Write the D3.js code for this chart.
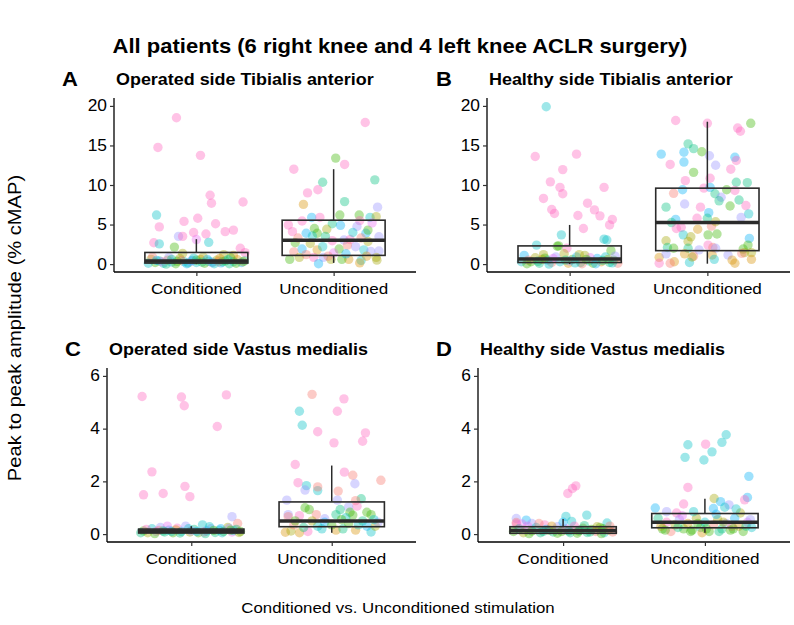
<!DOCTYPE html>
<html>
<head>
<meta charset="utf-8">
<script src="https://cdn.jsdelivr.net/npm/d3@7"></script>
<style>
  body { margin: 0; background: #fff; }
  svg text { font-family: "Liberation Sans", Arial, Helvetica, sans-serif; fill: #000; }
</style>
</head>
<body>
<svg id="chart"></svg>
<script>
// groups on the x axis
const categories = ['Conditioned', 'Unconditioned'];

// 10 patients, ggplot default hue palette
const patientColors = ['#F8766D', '#D89000', '#A3A500', '#39B600', '#00BF7D',
                       '#00BFC4', '#00B0F6', '#9590FF', '#E76BF3', '#FF62BC'];

// each point: [jitter (category units), peak-to-peak amplitude % cMAP, patient index]
const opTaCond = [
  [-0.145, 18.5, 9], [-0.28, 14.75, 9], [0.03, 13.75, 9], [0.10, 8.7, 9], [0.11, 7.7, 9], [0.34, 7.85, 9],
  [-0.29, 6.2, 5], [-0.27, 4.7, 9], [-0.09, 5.4, 9], [0.01, 5.8, 9], [0.14, 5.1, 9], [-0.02, 4.0, 9],
  [0.07, 3.8, 9], [0.21, 4.1, 9], [0.27, 4.3, 9], [-0.13, 3.5, 7], [-0.10, 3.5, 9], [-0.31, 2.7, 9],
  [-0.27, 2.55, 5], [0.09, 2.75, 5], [-0.16, 2.15, 3], [0.32, 2.0, 9], [0.355, 1.45, 9], [-0.10, 1.35, 2],
  [0.20, 1.2, 2], [0.27, 1.1, 1], [0.00, 3.1, 8], [-0.33, 0.6, 2], [-0.30, 0.2, 3], [-0.27, 0.4, 4],
  [-0.24, 0.1, 5], [-0.21, 0.5, 1], [-0.18, 0.25, 6], [-0.15, 0.05, 3], [-0.12, 0.7, 2], [-0.09, 0.3, 5],
  [-0.06, 0.15, 4], [-0.03, 0.45, 6], [0.0, 0.2, 5], [0.03, 0.6, 1], [0.06, 0.1, 3], [0.09, 0.35, 4],
  [0.12, 0.25, 5], [0.15, 0.5, 2], [0.18, 0.15, 6], [0.21, 0.4, 3], [0.24, 0.05, 4], [0.27, 0.3, 5],
  [0.30, 0.55, 1], [0.33, 0.2, 6], [-0.32, 0.9, 0], [-0.2, 0.85, 7], [0.05, 0.9, 2], [0.25, 0.8, 3],
  [-0.04, 0.35, 7], [0.16, 0.3, 0], [-0.25, 0.3, 8], [0.35, 0.4, 4], [-0.11, 0.45, 0], [0.11, 0.2, 7],
  [-0.35, 0.1, 5], [-0.22, 0.0, 4], [-0.14, 0.35, 3], [-0.07, 0.05, 6], [0.0, 0.5, 3], [0.04, 0.25, 4],
  [0.08, 0.6, 6], [0.13, 0.05, 5], [0.19, 0.3, 4], [0.23, 0.55, 5], [0.29, 0.1, 3], [0.34, 0.3, 2],
  [-0.29, 0.45, 6], [-0.18, 0.6, 4], [-0.02, 0.75, 5], [0.17, 0.7, 1]
];
const opTaUncond = [
  [0.23, 17.9, 9], [0.015, 13.4, 3], [0.08, 12.6, 9], [-0.29, 12.0, 9], [0.30, 10.65, 4], [-0.08, 10.35, 4],
  [-0.115, 9.4, 9], [-0.19, 9.0, 9], [0.08, 7.9, 4], [-0.22, 7.55, 1], [0.32, 7.2, 7], [0.045, 6.2, 3],
  [-0.23, 5.45, 9], [-0.16, 5.9, 6], [-0.10, 5.9, 9], [-0.01, 5.1, 4], [0.186, 6.2, 3], [0.19, 5.5, 9],
  [0.265, 5.9, 5], [0.31, 6.0, 2], [-0.33, 4.95, 9], [-0.30, 4.1, 9], [-0.20, 3.9, 6], [-0.12, 3.9, 3],
  [-0.05, 4.4, 2], [-0.14, 4.5, 3], [0.17, 4.75, 7], [0.235, 3.9, 6], [0.25, 4.3, 3], [0.33, 3.45, 7],
  [-0.155, 3.55, 5], [-0.28, 2.7, 3], [-0.01, 2.96, 9], [0.075, 3.05, 7], [0.12, 3.1, 9], [0.25, 2.85, 2],
  [-0.23, 1.9, 6], [-0.12, 1.8, 1], [-0.08, 2.2, 5], [0.04, 1.9, 3], [0.16, 2.2, 7], [0.22, 1.8, 5],
  [0.33, 1.65, 7], [-0.29, 1.55, 0], [-0.32, 0.6, 3], [-0.25, 0.85, 2], [-0.145, 0.85, 9], [-0.075, 0.85, 7],
  [-0.11, 0.05, 6], [-0.02, 0.6, 2], [0.11, 0.6, 1], [0.2, 0.45, 5], [0.19, 0.15, 1], [0.315, 0.5, 2],
  [0.31, 0.85, 2], [0.27, 1.6, 7], [0.10, 2.4, 0], [0.06, 0.6, 3], [-0.20, 1.2, 0], [0.0, 1.4, 8],
  [-0.06, 3.5, 4], [0.14, 4.0, 5], [0.28, 5.2, 8], [-0.26, 3.3, 0], [0.05, 4.9, 6], [0.20, 3.3, 0],
  [-0.17, 2.6, 2], [0.09, 1.3, 6], [0.24, 1.0, 1], [-0.04, 1.0, 0]
];
const healthyTaCond = [
  [-0.17, 19.9, 5], [-0.25, 13.6, 9], [0.05, 13.9, 9], [-0.05, 11.95, 9], [-0.14, 10.4, 9], [-0.07, 9.7, 9],
  [0.25, 9.7, 9], [-0.05, 8.9, 9], [-0.19, 8.3, 9], [0.13, 7.7, 9], [0.18, 6.85, 9], [-0.13, 6.9, 9],
  [-0.11, 6.4, 9], [0.06, 6.15, 9], [0.22, 6.1, 9], [0.31, 5.65, 9], [0.29, 4.95, 9], [0.10, 4.5, 9],
  [-0.06, 3.7, 5], [0.25, 3.15, 5], [0.27, 3.05, 5], [-0.24, 2.4, 5], [-0.09, 2.25, 3], [-0.08, 2.3, 3],
  [0.30, 1.7, 3], [-0.02, 2.0, 9], [-0.33, 1.1, 6], [-0.28, 0.3, 3], [-0.25, 0.8, 2], [-0.22, 0.1, 4],
  [-0.19, 1.2, 2], [-0.16, 0.5, 6], [-0.13, 0.2, 0], [-0.10, 0.9, 7], [-0.07, 0.3, 5], [-0.04, 1.3, 2],
  [-0.01, 0.1, 1], [0.02, 0.6, 3], [0.05, 0.9, 6], [0.08, 0.2, 4], [0.11, 1.1, 2], [0.14, 0.4, 5],
  [0.17, 0.1, 3], [0.20, 0.7, 6], [0.23, 0.3, 1], [0.26, 0.9, 5], [0.29, 0.2, 4], [0.32, 0.5, 3],
  [0.35, 0.1, 0], [-0.30, 0.5, 0], [-0.12, 0.7, 8], [0.0, 0.4, 7], [0.15, 0.8, 8], [-0.2, 0.6, 1],
  [0.28, 0.6, 2], [0.09, 0.05, 0], [-0.35, 0.3, 5], [0.33, 1.0, 7],
  [-0.31, 0.05, 3], [-0.23, 0.35, 4], [-0.15, 0.0, 5], [-0.03, 0.5, 4], [0.04, 0.15, 5], [0.12, 0.6, 3],
  [0.19, 0.05, 6], [0.24, 0.45, 4], [0.31, 0.15, 5], [-0.18, 0.75, 3], [0.07, 1.2, 2]
];
const healthyTaUncond = [
  [-0.23, 18.15, 9], [0.0, 17.8, 9], [0.315, 17.8, 3], [0.22, 17.2, 9], [0.24, 16.8, 9], [-0.14, 15.2, 4],
  [-0.10, 14.6, 4], [-0.17, 14.15, 6], [-0.335, 13.9, 6], [-0.04, 14.2, 3], [0.015, 13.7, 7], [0.20, 13.5, 6],
  [0.21, 13.1, 9], [-0.27, 12.6, 9], [-0.17, 12.9, 6], [0.06, 12.5, 7], [0.17, 12.0, 9], [-0.10, 11.6, 3],
  [-0.16, 10.55, 9], [0.02, 10.85, 9], [0.21, 10.35, 4], [0.29, 10.3, 4], [-0.025, 9.6, 9], [0.02, 9.7, 6],
  [-0.245, 8.95, 0], [-0.18, 9.4, 6], [0.055, 8.9, 4], [0.10, 8.45, 7], [0.085, 8.0, 4], [0.14, 9.4, 3],
  [0.20, 9.3, 9], [0.23, 8.1, 4], [0.28, 7.4, 9], [0.30, 6.35, 5], [0.165, 7.35, 3], [-0.30, 7.2, 4],
  [-0.165, 7.6, 7], [-0.05, 7.2, 9], [-0.075, 5.8, 9], [0.01, 6.5, 6], [0.0, 5.8, 4], [0.245, 5.9, 7],
  [-0.23, 5.65, 6], [-0.26, 5.25, 4], [-0.19, 4.65, 9], [0.03, 4.8, 0], [0.06, 5.35, 2], [-0.07, 4.4, 1],
  [-0.225, 4.5, 9], [-0.175, 3.7, 5], [-0.12, 3.45, 2], [-0.14, 2.85, 2], [0.005, 3.7, 3], [0.07, 3.8, 3],
  [-0.30, 2.95, 2], [0.305, 3.25, 6], [0.295, 2.4, 3], [0.26, 1.9, 3], [0.005, 2.4, 9], [0.04, 2.1, 0],
  [0.06, 2.0, 7], [-0.29, 2.1, 4], [-0.245, 2.0, 3], [-0.14, 2.0, 4], [-0.06, 1.8, 7], [0.32, 1.45, 2],
  [0.27, 1.45, 2], [-0.35, 0.85, 1], [-0.30, 1.3, 7], [-0.24, 0.3, 1], [-0.27, 0.1, 0], [-0.35, 0.1, 9],
  [-0.165, 1.3, 1], [-0.10, 1.0, 0], [-0.13, 0.2, 5], [-0.11, 0.9, 2], [0.035, 1.15, 1], [0.05, 0.6, 5],
  [0.15, 1.15, 7], [0.18, 0.5, 1], [0.20, 0.1, 1], [0.25, 1.35, 0], [0.32, 0.6, 1]
];
const opVmCond = [
  [-0.35, 5.22, 9], [-0.05, 4.87, 9], [-0.07, 5.2, 9], [0.25, 5.28, 9], [0.185, 4.08, 9], [-0.28, 2.36, 9],
  [-0.34, 1.49, 9], [-0.20, 1.54, 9], [-0.045, 1.81, 9], [-0.01, 1.42, 9], [0.29, 0.66, 7], [0.33, 0.4, 0],
  [-0.34, 0.12, 3], [-0.31, 0.05, 2], [-0.28, 0.2, 5], [-0.25, 0.1, 8], [-0.22, 0.25, 7], [-0.19, 0.08, 4],
  [-0.16, 0.15, 6], [-0.13, 0.05, 3], [-0.10, 0.22, 9], [-0.07, 0.1, 5], [-0.04, 0.3, 7], [-0.01, 0.08, 2],
  [0.02, 0.18, 4], [0.05, 0.05, 3], [0.08, 0.35, 5], [0.11, 0.12, 6], [0.14, 0.2, 7], [0.17, 0.06, 4],
  [0.20, 0.15, 5], [0.23, 0.1, 3], [0.26, 0.25, 2], [0.29, 0.08, 8], [0.32, 0.18, 4], [0.35, 0.1, 3],
  [-0.32, 0.18, 9], [-0.23, 0.14, 0], [-0.11, 0.16, 1], [0.0, 0.12, 7], [0.09, 0.08, 9], [0.21, 0.2, 6],
  [0.30, 0.13, 5], [-0.17, 0.3, 8], [0.13, 0.28, 5], [0.27, 0.22, 7],
  [-0.36, 0.05, 4], [-0.26, 0.02, 3], [-0.2, 0.12, 4], [-0.14, 0.1, 5], [-0.08, 0.04, 4], [-0.02, 0.2, 5],
  [0.04, 0.1, 6], [0.1, 0.02, 4], [0.16, 0.14, 3], [0.22, 0.05, 5], [0.28, 0.15, 3], [0.34, 0.06, 2]
];
const opVmUncond = [
  [-0.14, 5.3, 0], [0.087, 5.13, 9], [-0.23, 4.66, 5], [0.04, 4.66, 9], [-0.21, 4.13, 5], [-0.10, 3.88, 9],
  [0.24, 3.84, 9], [0.22, 3.52, 9], [0.016, 3.46, 9], [-0.26, 2.64, 9], [0.09, 2.35, 9], [0.15, 2.23, 0],
  [0.35, 2.04, 0], [-0.24, 1.95, 9], [-0.18, 1.84, 5], [0.165, 1.91, 7], [-0.10, 1.65, 5], [-0.10, 1.79, 0],
  [-0.19, 1.67, 7], [0.046, 1.63, 0], [-0.32, 1.29, 7], [0.04, 1.29, 7], [0.21, 1.34, 4], [0.17, 1.27, 0],
  [0.18, 1.06, 9], [0.12, 1.03, 7], [-0.19, 1.0, 3], [-0.16, 0.93, 3], [0.06, 0.93, 4], [0.13, 0.83, 3],
  [0.15, 0.72, 3], [0.25, 0.83, 3], [0.28, 0.74, 3], [0.03, 0.74, 4], [-0.31, 0.74, 7], [-0.31, 0.66, 0],
  [-0.23, 0.7, 9], [-0.11, 0.74, 0], [-0.05, 0.58, 7], [0.10, 0.62, 5], [-0.33, 0.07, 1], [-0.29, 0.12, 2],
  [-0.23, 0.05, 1], [-0.17, 0.1, 9], [-0.10, 0.3, 5], [0.03, 0.15, 1], [0.08, 0.2, 4], [0.17, 0.15, 1],
  [0.28, 0.08, 5], [0.31, 0.3, 2], [-0.27, 0.35, 0], [-0.05, 0.45, 6], [0.12, 0.4, 3], [0.22, 0.5, 4],
  [0.33, 0.45, 7], [-0.14, 0.5, 2], [0.0, 0.35, 3], [-0.2, 0.25, 4], [0.25, 0.3, 6],
  [-0.07, 0.2, 5], [0.19, 0.35, 5], [-0.26, 0.5, 3], [0.07, 0.55, 3], [0.3, 0.55, 5]
];
const healthyVmCond = [
  [0.033, 1.54, 9], [0.066, 1.73, 9], [0.09, 1.83, 9], [0.167, 0.72, 5], [0.02, 0.67, 5], [0.06, 0.48, 5],
  [0.31, 0.42, 5], [-0.33, 0.59, 7], [-0.26, 0.53, 6], [-0.33, 0.44, 0], [-0.33, 0.38, 9], [-0.22, 0.4, 7],
  [-0.35, 0.1, 3], [-0.31, 0.2, 4], [-0.28, 0.05, 2], [-0.25, 0.3, 8], [-0.22, 0.12, 3], [-0.19, 0.25, 5],
  [-0.16, 0.05, 4], [-0.13, 0.35, 9], [-0.10, 0.15, 3], [-0.07, 0.08, 4], [-0.04, 0.28, 7], [-0.01, 0.1, 3],
  [0.02, 0.2, 8], [0.05, 0.05, 4], [0.08, 0.3, 9], [0.11, 0.12, 3], [0.14, 0.22, 2], [0.17, 0.06, 4],
  [0.20, 0.18, 3], [0.23, 0.1, 0], [0.26, 0.25, 3], [0.29, 0.05, 5], [0.32, 0.15, 1], [0.35, 0.08, 0],
  [-0.29, 0.38, 8], [-0.17, 0.4, 0], [-0.08, 0.3, 1], [0.0, 0.45, 6], [0.12, 0.15, 5], [0.24, 0.28, 2],
  [-0.12, 0.18, 6], [0.15, 0.32, 4], [0.28, 0.2, 3],
  [-0.24, 0.02, 3], [-0.14, 0.1, 4], [-0.04, 0.03, 3], [0.04, 0.12, 4], [0.1, 0.03, 3], [0.19, 0.08, 4],
  [0.27, 0.02, 3], [0.33, 0.3, 0]
];
const healthyVmUncond = [
  [-0.12, 3.39, 5], [0.005, 3.41, 9], [0.05, 3.12, 5], [0.12, 3.48, 5], [0.15, 3.77, 5], [-0.14, 2.91, 5],
  [-0.007, 2.81, 5], [0.31, 2.19, 6], [-0.12, 1.77, 9], [0.30, 1.39, 6], [0.28, 1.3, 9], [-0.15, 1.14, 9],
  [0.065, 1.35, 2], [-0.35, 0.99, 6], [0.06, 0.97, 6], [0.11, 1.23, 6], [0.17, 1.11, 7], [0.14, 1.02, 5],
  [-0.27, 0.85, 7], [-0.20, 0.8, 9], [0.25, 0.8, 2], [-0.33, 0.6, 4], [-0.30, 0.2, 3], [-0.27, 0.45, 9],
  [-0.24, 0.1, 0], [-0.21, 0.35, 2], [-0.18, 0.55, 7], [-0.15, 0.2, 3], [-0.12, 0.4, 1], [-0.09, 0.15, 3],
  [-0.06, 0.6, 2], [-0.03, 0.25, 4], [0.0, 0.45, 5], [0.03, 0.1, 3], [0.06, 0.35, 0], [0.09, 0.55, 2],
  [0.12, 0.2, 4], [0.15, 0.4, 7], [0.18, 0.15, 3], [0.21, 0.6, 6], [0.24, 0.3, 1], [0.27, 0.1, 3],
  [0.30, 0.45, 8], [0.33, 0.25, 5], [-0.31, 0.3, 1], [-0.16, 0.7, 8], [0.08, 0.75, 6], [0.19, 0.3, 0],
  [-0.02, 0.05, 1], [0.32, 0.55, 7], [-0.08, 0.85, 5], [0.22, 0.95, 5],
  [-0.28, 0.15, 3], [-0.19, 0.25, 4], [-0.1, 0.1, 3], [0.01, 0.2, 3], [0.1, 0.1, 4], [0.2, 0.2, 3],
  [0.29, 0.3, 4], [-0.05, 0.4, 3], [0.13, 0.45, 2]
];

// box stats: [lower whisker, q1, median, q3, upper whisker]
const boxOpTa = [[0.0, 0.13, 0.4, 1.47, 3.15], [0.15, 1.1, 3.0, 5.55, 12.0]];
const boxHealthyTa = [[0.0, 0.2, 0.65, 2.3, 4.95], [0.05, 1.7, 5.25, 9.6, 18.0]];
const boxOpVm = [[0.02, 0.04, 0.11, 0.19, 0.3], [0.05, 0.28, 0.5, 1.22, 2.6]];
const boxHealthyVm = [[0.02, 0.03, 0.14, 0.28, 0.57], [0.05, 0.24, 0.45, 0.78, 1.34]];

const yTicksTa = [0, 5, 10, 15, 20];
const yTicksVm = [0, 2, 4, 6];

const mainTitle = 'All patients (6 right knee and 4 left knee ACLR surgery)';
const xTitle = 'Conditioned vs. Unconditioned stimulation';
const yTitle = 'Peak to peak amplitude (% cMAP)';

const panels = [
  {letter: 'A', title: 'Operated side Tibialis anterior', groups: [opTaCond, opTaUncond], box: boxOpTa,
   ticks: yTicksTa, domain: [-1, 21], x0: 114, x1: 416, top: 98, bottom: 272, letterX: 62},
  {letter: 'B', title: 'Healthy side Tibialis anterior', groups: [healthyTaCond, healthyTaUncond], box: boxHealthyTa,
   ticks: yTicksTa, domain: [-1, 21], x0: 487, x1: 790, top: 98, bottom: 272, letterX: 436},
  {letter: 'C', title: 'Operated side Vastus medialis', groups: [opVmCond, opVmUncond], box: boxOpVm,
   ticks: yTicksVm, domain: [-0.3, 6.3], x0: 107, x1: 416, top: 368, bottom: 542, letterX: 65},
  {letter: 'D', title: 'Healthy side Vastus medialis', groups: [healthyVmCond, healthyVmUncond], box: boxHealthyVm,
   ticks: yTicksVm, domain: [-0.3, 6.3], x0: 478, x1: 790, top: 368, bottom: 542, letterX: 436}
];

const width = 794, height = 625;
const sx = 1.1; // the source picture's text is slightly wider than regular Arial

const svg = d3.select('#chart')
    .attr('width', width)
    .attr('height', height);

// helper: text anchored at (x, y) with the horizontal stretch
function addText(parent, x, y, str, size, opts = {}) {
  return parent.append('text')
      .attr('transform', `translate(${x},${y}) scale(${opts.rotate ? 1 : sx},${opts.rotate ? sx : 1})${opts.rotate ? ' rotate(-90)' : ''}`)
      .attr('text-anchor', opts.anchor || 'start')
      .attr('font-size', size)
      .attr('font-weight', opts.bold ? 'bold' : null)
      .text(str);
}

addText(svg, 400, 53, mainTitle, 20, {anchor: 'middle', bold: true});
addText(svg, 398, 613, xTitle, 15.3, {anchor: 'middle'});
addText(svg, 21, 328, yTitle, 18.3, {anchor: 'middle', rotate: true});

panels.forEach(p => {
  const g = svg.append('g');

  // ggplot discrete expansion: 0.6 units each side of positions 1..2
  const xPos = d3.scaleLinear().domain([0.4, 2.6]).range([p.x0, p.x1]);
  const unit = xPos(2) - xPos(1);

  const yScale = d3.scaleLinear().domain(p.domain).range([p.bottom, p.top]);

  // jittered points
  p.groups.forEach((pts, gi) => {
    g.selectAll(null)
        .data(pts)
        .join('circle')
        .attr('cx', d => xPos(gi + 1 + d[0]))
        .attr('cy', d => yScale(d[1]))
        .attr('r', 4.7)
        .attr('fill', d => patientColors[d[2]])
        .attr('fill-opacity', 0.38);
  });

  // boxplots
  const bw = 0.75 * unit;
  p.box.forEach((b, gi) => {
    const cx = xPos(gi + 1);
    const bg = g.append('g').attr('stroke', '#2b2b2b');
    bg.append('line')
        .attr('x1', cx).attr('x2', cx)
        .attr('y1', yScale(b[3])).attr('y2', yScale(b[4]))
        .attr('stroke-width', 1.5);
    bg.append('line')
        .attr('x1', cx).attr('x2', cx)
        .attr('y1', yScale(b[0])).attr('y2', yScale(b[1]))
        .attr('stroke-width', 1.5);
    bg.append('rect')
        .attr('x', cx - bw / 2).attr('width', bw)
        .attr('y', yScale(b[3])).attr('height', yScale(b[1]) - yScale(b[3]))
        .attr('fill', 'none')
        .attr('stroke-width', 1.6);
    bg.append('line')
        .attr('x1', cx - bw / 2).attr('x2', cx + bw / 2)
        .attr('y1', yScale(b[2])).attr('y2', yScale(b[2]))
        .attr('stroke-width', 3.5);
  });

  // axes
  const yAxis = d3.axisLeft(yScale).tickValues(p.ticks).tickSize(4).tickSizeOuter(0);
  const yAxisG = g.append('g')
      .attr('transform', `translate(${p.x0},0)`)
      .call(yAxis);
  yAxisG.select('.domain').attr('d', `M0,${p.top}V${p.bottom}`);

  const xAxis = d3.axisBottom(xPos).tickValues([1, 2]).tickSize(4).tickFormat(() => '');
  const xAxisG = g.append('g')
      .attr('transform', `translate(0,${p.bottom})`)
      .call(xAxis);
  xAxisG.select('.domain').attr('d', `M${p.x0},0H${p.x1}`);

  [yAxisG, xAxisG].forEach(a => {
    a.selectAll('.domain').attr('stroke', '#000').attr('stroke-width', 1.3);
    a.selectAll('.tick line').attr('stroke', '#333').attr('stroke-width', 1.2);
  });
  yAxisG.selectAll('.tick text').remove();

  // tick labels (stretched like the source)
  p.ticks.forEach(t => {
    addText(g, p.x0 - 7, yScale(t) + 5.5, t, 15.8, {anchor: 'end'}).attr('fill', '#222');
  });
  categories.forEach((c, i) => {
    addText(g, xPos(i + 1), p.bottom + 22, c, 15.5, {anchor: 'middle'}).attr('fill', '#222');
  });

  // panel letter and title
  addText(g, p.letterX, p.top - 12, p.letter, 20, {bold: true});
  addText(g, p.x0 + 2, p.top - 13, p.title, 16.3, {bold: true});
});
</script>
</body>
</html>
